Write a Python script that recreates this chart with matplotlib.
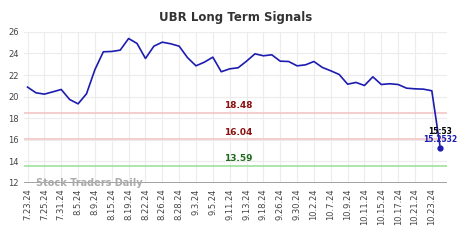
import matplotlib.pyplot as plt

tick_labels = ['7.23.24', '7.25.24', '7.31.24', '8.5.24', '8.9.24', '8.15.24', '8.19.24',
               '8.22.24', '8.26.24', '8.28.24', '9.3.24', '9.5.24', '9.11.24', '9.13.24',
               '9.18.24', '9.26.24', '9.30.24', '10.2.24', '10.7.24', '10.9.24', '10.11.24',
               '10.15.24', '10.17.24', '10.21.24', '10.23.24']

prices = [20.88, 20.35, 20.23, 20.44, 20.66, 19.73, 19.33, 20.26, 22.5, 24.15,
          24.18, 24.3, 25.38, 24.92, 23.53, 24.67, 25.04, 24.89, 24.67, 23.6,
          22.85, 23.19, 23.65, 22.3, 22.57, 22.67, 23.28, 23.96, 23.78, 23.87,
          23.28, 23.25, 22.85, 22.94, 23.25, 22.7, 22.39, 22.05, 21.15, 21.31,
          21.03, 21.83, 21.12, 21.19, 21.12, 20.78, 20.72, 20.69, 20.54, 15.2532]

levels = [18.48, 16.04, 13.59]
level_colors = ['#f4c6c6', '#f4c6c6', '#9fe09f']
label_colors = ['#8b1010', '#8b1010', '#1e6b1e']
last_time = '15:53'

fig = plt.figure(figsize=(4.74, 2.4), dpi=100)
ax = fig.add_axes([0.051, 0.2375, 0.892, 0.63])

x = list(range(len(prices)))
ax.plot(x, prices, color='#1c1cb0', linewidth=1.2, zorder=3)
ax.plot(x[-1], prices[-1], 'o', color='#1c1cb0', markersize=3.5, zorder=4)

for lv, lc, tc in zip(levels, level_colors, label_colors):
    ax.axhline(lv, color=lc, linewidth=1.2, zorder=2)
    ax.text(25, lv + 0.25, f'{lv:.2f}', color=tc, fontsize=6.5, fontweight='bold',
            ha='center', va='bottom', zorder=5)

ax.axhline(12, color='#999999', linewidth=2, zorder=3)
ax.text(1, 12.0, 'Stock Traders Daily', color='#aaaaaa', fontsize=7, fontweight='bold',
        ha='left', va='center', zorder=5)

ax.text(x[-1], prices[-1] + 1.1, last_time, color='black', fontsize=5.5, fontweight='bold',
        ha='center', va='bottom', zorder=5)
ax.text(x[-1], prices[-1] + 0.35, f'{prices[-1]:.4f}', color='#1c1cb0', fontsize=5.5,
        fontweight='bold', ha='center', va='bottom', zorder=5)

ax.set_ylim(12, 26)
ax.set_xlim(-0.4, 49.8)
ax.set_yticks([12, 14, 16, 18, 20, 22, 24, 26])
ax.set_xticks(range(0, 49, 2))
ax.set_xticklabels(tick_labels, rotation=90)
ax.tick_params(axis='both', labelsize=6, colors='#444444', length=0, pad=4)
ax.grid(True, color='#ececec', linewidth=0.8, zorder=0)
for s in ax.spines.values():
    s.set_visible(False)

ax.set_title('UBR Long Term Signals', fontsize=8.5, fontweight='bold', color='#333333', pad=8)

fig.savefig('out.png', dpi=100)
